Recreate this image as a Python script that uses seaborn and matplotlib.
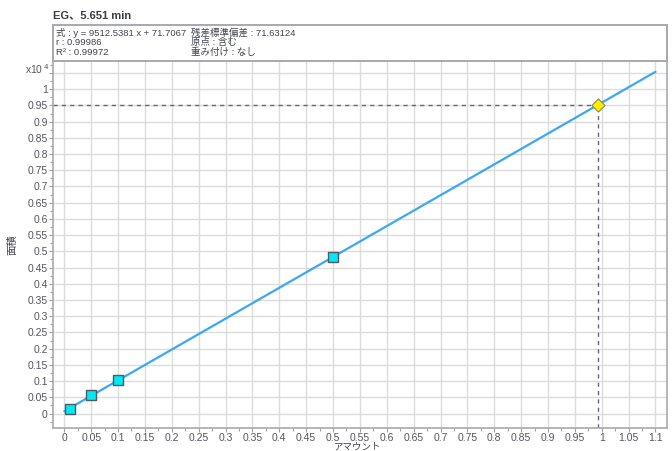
import numpy as np
import pandas as pd
import matplotlib
matplotlib.use("Agg")
import matplotlib.pyplot as plt
from matplotlib.patches import Rectangle
from matplotlib.ticker import MultipleLocator, FuncFormatter
import seaborn as sns

# Calibration standards (amount, peak area)
std_amount = [0.01, 0.05, 0.1, 0.5]
std_area = [148, 585, 1035, 4835]

# Unknown sample peak area
sample_area = [9520]

# Regression result
slope = 9512.5381
intercept = 71.7067
fit_range = [0.0, 1.1]

title_text = "EG、5.651 min"
info_left = ["式 : y = 9512.5381 x + 71.7067", "r : 0.99986", "R² : 0.99972"]
info_right = ["残差標準偏差 : 71.63124", "原点 : 含む", "重み付け : なし"]
x_label = "アマウント"
y_label = "面積"
scale = 1e4

sns.set_theme(style="whitegrid")
plt.rcParams["font.family"] = ["Liberation Sans", "Noto Sans CJK JP", "DejaVu Sans"]

fig = plt.figure(figsize=(6.72, 4.51), dpi=100)
ax = fig.add_axes([53.3 / 672, 1 - 428.3 / 451, 613.2 / 672, 368.3 / 451])
ax.set_facecolor("white")

# Fitted line
fit_df = pd.DataFrame({"amount": fit_range,
                       "area": [(slope * a + intercept) / scale for a in fit_range]})
sns.lineplot(data=fit_df, x="amount", y="area", ax=ax, color="#3aa8f4", lw=1.6, zorder=3)

# Guides to the unknown sample
samp_amt = [(a - intercept) / slope for a in sample_area]
samp_y = [a / scale for a in sample_area]
xmin, xmax = -0.0205, 1.1205
ymin, ymax = -0.0455, 1.09
ax.plot([xmin, samp_amt[0]], [samp_y[0], samp_y[0]], ls=(0, (3, 3)), color="#666677", lw=1.0, zorder=2)
ax.plot([samp_amt[0], samp_amt[0]], [ymin, samp_y[0]], ls=(0, (3, 3)), color="#666677", lw=1.0, zorder=2)

# Standards
std_df = pd.DataFrame({"amount": std_amount, "area": [a / scale for a in std_area]})
sns.scatterplot(data=std_df, x="amount", y="area", ax=ax, marker="s", s=45,
                color="#00eaf5", edgecolor="#505a60", linewidth=1.0, zorder=4)
samp_df = pd.DataFrame({"amount": samp_amt, "area": samp_y})
sns.scatterplot(data=samp_df, x="amount", y="area", ax=ax, marker="D", s=45,
                color="#ffee00", edgecolor="#888866", linewidth=0.8, zorder=5)

ax.set_xlim(xmin, xmax)
ax.set_ylim(ymin, ymax)
ax.xaxis.set_major_locator(MultipleLocator(0.05))
ax.yaxis.set_major_locator(MultipleLocator(0.05))
ax.xaxis.set_minor_locator(MultipleLocator(0.025))
ax.yaxis.set_minor_locator(MultipleLocator(0.025))

def fmt(v, pos):
    v = round(v, 3)
    if v < -1e-9 or v > 1.1 + 1e-9:
        return ""
    return "%g" % v

def yfmt(v, pos):
    v = round(v, 3)
    if v < -1e-9 or v > 1.0 + 1e-9:
        return ""
    return "%g" % v

ax.xaxis.set_major_formatter(FuncFormatter(fmt))
ax.yaxis.set_major_formatter(FuncFormatter(yfmt))
ax.grid(True, which="major", color="#dcdcdc", lw=1.0)
ax.grid(False, which="minor")
ax.tick_params(axis="both", which="major", labelsize=7.5, labelcolor="#555560",
               color="#a0a0a8", length=3, width=0.8, direction="out", pad=1)
ax.tick_params(axis="x", which="major", pad=0.5)
ax.tick_params(axis="both", which="minor", color="#a0a0a8", length=2, width=0.8,
               direction="out")
ax.tick_params(left=True, bottom=True, which="both")
for s in ax.spines.values():
    s.set_color("#a8a8b0")
    s.set_linewidth(1.2)
ax.set_xlabel("")
ax.set_ylabel("")

# Header with regression statistics
fig.patches.append(Rectangle((53.3 / 672, 1 - 60.5 / 451), 613.2 / 672, 35.5 / 451,
                             transform=fig.transFigure, facecolor="white",
                             edgecolor="#a8a8b0", lw=1.4))
for i, t in enumerate(info_left):
    fig.text(56 / 672, 1 - (32.5 + 10 * i) / 451, t, fontsize=6.8, color="#444450", va="center")
for i, t in enumerate(info_right):
    fig.text(191 / 672, 1 - (32.5 + 10 * i) / 451, t, fontsize=6.8, color="#444450", va="center")

fig.text(53 / 672, 1 - 15 / 451, title_text, fontsize=8, fontweight="bold",
         color="#3c3c46", va="center")
fig.text(49 / 672, 1 - 69 / 451, r"x10$^{\,4}$", fontsize=7.5, color="#555560",
         ha="right", va="center")
fig.text(12 / 672, 1 - 245 / 451, y_label, fontsize=7.5, color="#444450",
         rotation=90, ha="center", va="center")
fig.text(358 / 672, 1 - 447 / 451, x_label, fontsize=6.8, color="#444450",
         ha="center", va="center")

fig.savefig("out.png", dpi=100, facecolor="white")
